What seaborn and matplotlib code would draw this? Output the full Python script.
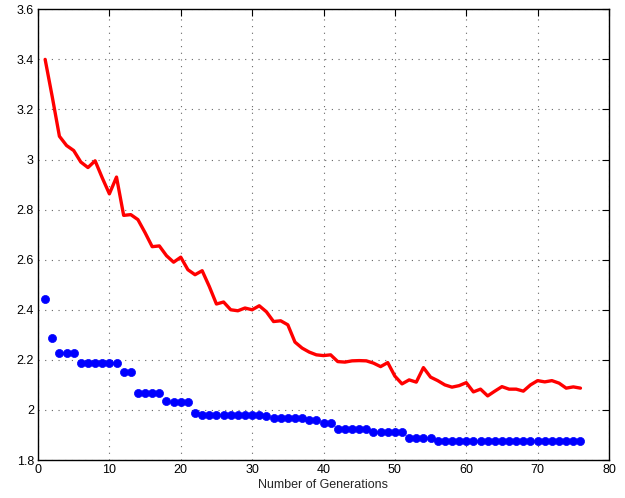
import numpy as np
import pandas as pd
import matplotlib
matplotlib.use("Agg")
import matplotlib.pyplot as plt
import seaborn as sns

generations = list(range(1, 77))

mean_fitness = [
    3.400, 3.250, 3.093, 3.056, 3.036, 2.990, 2.968, 2.995, 2.927, 2.863,
    2.930, 2.777, 2.780, 2.760, 2.708, 2.652, 2.655, 2.616, 2.590, 2.610,
    2.560, 2.540, 2.556, 2.493, 2.423, 2.431, 2.400, 2.396, 2.407, 2.400,
    2.416, 2.392, 2.353, 2.356, 2.340, 2.271, 2.247, 2.231, 2.220, 2.217,
    2.220, 2.193, 2.191, 2.196, 2.197, 2.196, 2.187, 2.173, 2.189, 2.135,
    2.104, 2.120, 2.111, 2.169, 2.131, 2.117, 2.100, 2.091, 2.097, 2.109,
    2.072, 2.083, 2.056, 2.075, 2.093, 2.083, 2.083, 2.075, 2.100, 2.117,
    2.112, 2.117, 2.107, 2.087, 2.092, 2.087,
]

best_fitness = [
    2.443, 2.289, 2.228, 2.228, 2.228, 2.189, 2.189, 2.189, 2.189, 2.189,
    2.189, 2.152, 2.152, 2.067, 2.067, 2.067, 2.067, 2.037, 2.031, 2.031,
    2.031, 1.987, 1.980, 1.980, 1.980, 1.980, 1.980, 1.980, 1.980, 1.980,
    1.980, 1.975, 1.967, 1.967, 1.967, 1.967, 1.967, 1.958, 1.958, 1.947,
    1.947, 1.922, 1.922, 1.922, 1.922, 1.922, 1.913, 1.913, 1.913, 1.913,
    1.913, 1.887, 1.887, 1.887, 1.887, 1.877, 1.877, 1.877, 1.877, 1.877,
    1.877, 1.877, 1.877, 1.877, 1.877, 1.877, 1.877, 1.877, 1.877, 1.877,
    1.877, 1.877, 1.877, 1.877, 1.877, 1.877,
]

x_ticks = [0, 10, 20, 30, 40, 50, 60, 70, 80]
y_ticks = [1.8, 2.0, 2.2, 2.4, 2.6, 2.8, 3.0, 3.2, 3.4, 3.6]
y_tick_labels = ["1.8", "2", "2.2", "2.4", "2.6", "2.8", "3", "3.2", "3.4", "3.6"]

df = pd.DataFrame({"gen": generations, "mean": mean_fitness, "best": best_fitness})

sns.set_style("white")
plt.rcParams["font.family"] = ["Liberation Sans", "DejaVu Sans"]

fig = plt.figure(figsize=(6.25, 4.98), dpi=100)
ax = fig.add_axes([0.0608, 0.0763, 0.9136, 0.905])

sns.lineplot(data=df, x="gen", y="mean", ax=ax, color="#ff0000", linewidth=2.4,
             zorder=3)
sns.scatterplot(data=df, x="gen", y="best", ax=ax, color="#0000ff", s=34,
                edgecolor="#0000ff", linewidth=0.5, zorder=4)

ax.set_xlim(0, 80)
ax.set_ylim(1.8, 3.6)
ax.set_xticks(x_ticks)
ax.set_yticks(y_ticks)
ax.set_yticklabels(y_tick_labels)

ax.grid(True, linestyle=(0, (1, 5)), color="#666666", linewidth=0.8)
ax.tick_params(direction="in", length=5, width=0.8, top=True, right=True,
               labelsize=9, colors="black", pad=3)
for s in ax.spines.values():
    s.set_color("black")
    s.set_linewidth(1.0)

ax.set_xlabel("Number of Generations", fontsize=9, labelpad=2)
ax.set_ylabel("")

fig.savefig("out.png", dpi=100)
